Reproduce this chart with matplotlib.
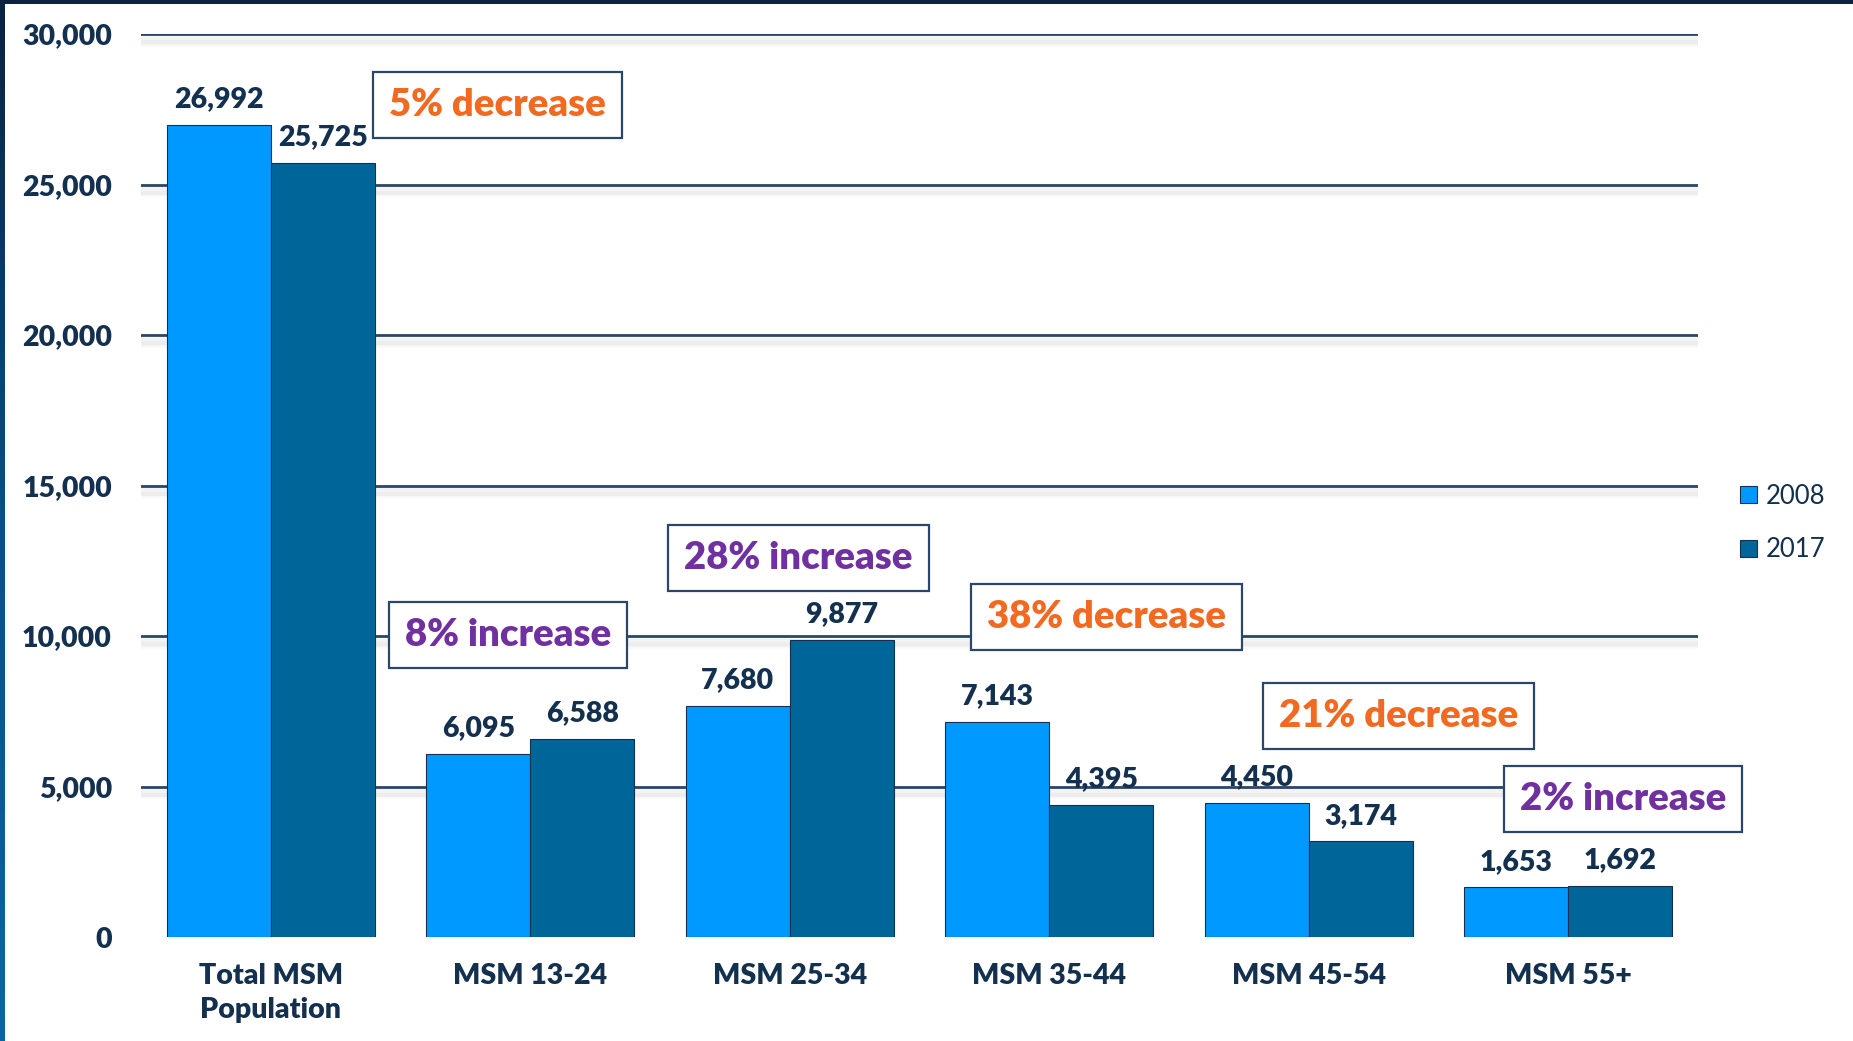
import numpy as np
import matplotlib
matplotlib.use("Agg")
import matplotlib.pyplot as plt
import matplotlib.patheffects as pe
from matplotlib.patches import Rectangle, Patch
from matplotlib.colors import LinearSegmentedColormap

# ---- data ----
categories = ["Total MSM\nPopulation", "MSM 13-24", "MSM 25-34", "MSM 35-44", "MSM 45-54", "MSM 55+"]
years = ["2008", "2017"]
values_2008 = [26992, 6095, 7680, 7143, 4450, 1653]
values_2017 = [25725, 6588, 9877, 4395, 3174, 1692]
change_labels = ["5% decrease", "8% increase", "28% increase", "38% decrease", "21% decrease", "2% increase"]
yticks = [0, 5000, 10000, 15000, 20000, 25000, 30000]

# ---- style ----
NAVY = "#13304f"
GRID = "#2a4668"
C2008 = "#0099ff"
C2017 = "#006699"
ORANGE = "#f26a21"
PURPLE = "#7030a0"
WEIGHT = 800
plt.rcParams["font.family"] = ["Lato", "DejaVu Sans"]

fig = plt.figure(figsize=(18.53, 10.41), dpi=100)
ax = fig.add_axes([141/1853, 1-937/1041, (1698-141)/1853, (937-34)/1041])

x = np.arange(len(categories))
w = 0.4
b1 = ax.bar(x - w/2, values_2008, w, color=C2008, edgecolor=NAVY, linewidth=0.8, zorder=3, label=years[0])
b2 = ax.bar(x + w/2, values_2017, w, color=C2017, edgecolor=NAVY, linewidth=0.8, zorder=3, label=years[1])

for bars in (b1, b2):
    ax.bar_label(bars, labels=[f"{v:,}" for v in bars.datavalues], padding=9,
                 fontsize=20.5, fontweight=WEIGHT, color=NAVY, zorder=5)

ax.set_xlim(-0.5, len(categories) - 0.5)
ax.set_ylim(0, 30000)
ax.set_yticks(yticks)
ax.set_yticklabels([f"{v:,}" for v in yticks], fontsize=20.5, fontweight=WEIGHT, color=NAVY)
ax.set_xticks(x)
ax.set_xticklabels(categories, fontsize=20.5, fontweight=WEIGHT, color=NAVY, linespacing=1.35)
ax.tick_params(axis="both", length=0)
ax.tick_params(axis="y", pad=21)
ax.tick_params(axis="x", pad=19)
for s in ax.spines.values():
    s.set_visible(False)

# gridlines with soft shadow
shadow = [pe.SimpleLineShadow(offset=(0, -o), shadow_color="#000000", alpha=0.025, linewidth=lw)
          for o, lw in ((4, 9), (5, 6), (6, 3))]
for yv in yticks[1:]:
    ax.axhline(yv, color=GRID, linewidth=2.0, zorder=1, path_effects=shadow + [pe.Normal()])

# annotation boxes (layout positions in data coords)
ann_pos = [(0.872, 27641), (0.915, 10033), (2.033, 12591), (3.219, 10631), (4.345, 7342), (5.212, 4585)]
for txt, (px, py) in zip(change_labels, ann_pos):
    col = ORANGE if "decrease" in txt else PURPLE
    ax.text(px, py, txt, ha="center", va="center", fontsize=27.5, fontweight=WEIGHT, color=col, zorder=6,
            bbox=dict(boxstyle="square,pad=0.42", fc="white", ec=GRID, lw=1.6))

# legend
handles = [Patch(facecolor=C2008, edgecolor=NAVY, linewidth=0.8, label=years[0]),
           Patch(facecolor=C2017, edgecolor=NAVY, linewidth=0.8, label=years[1])]
leg = fig.legend(handles=handles, loc="center left", bbox_to_anchor=(1740/1853, 1-523/1041),
                 frameon=False, fontsize=18.5, handlelength=0.65, handleheight=0.65,
                 handletextpad=0.35, labelspacing=1.1, borderpad=0, borderaxespad=0)
for t in leg.get_texts():
    t.set_color(NAVY)

# slide frame: top dark band and left gradient strip
fig.patches.append(Rectangle((0, 1-4/1041), 1, 4/1041, transform=fig.transFigure,
                             facecolor="#0b2340", edgecolor="none", zorder=10))
sax = fig.add_axes([0, 0, 5/1853, 1])
grad = np.linspace(0, 1, 256).reshape(-1, 1)
cm = LinearSegmentedColormap.from_list("g", ["#0b2340", "#0a4f85", "#0a66a3"])
sax.imshow(grad, aspect="auto", cmap=cm, extent=[0, 1, 0, 1], origin="upper")
sax.axis("off")

fig.savefig("out.png", dpi=100)
